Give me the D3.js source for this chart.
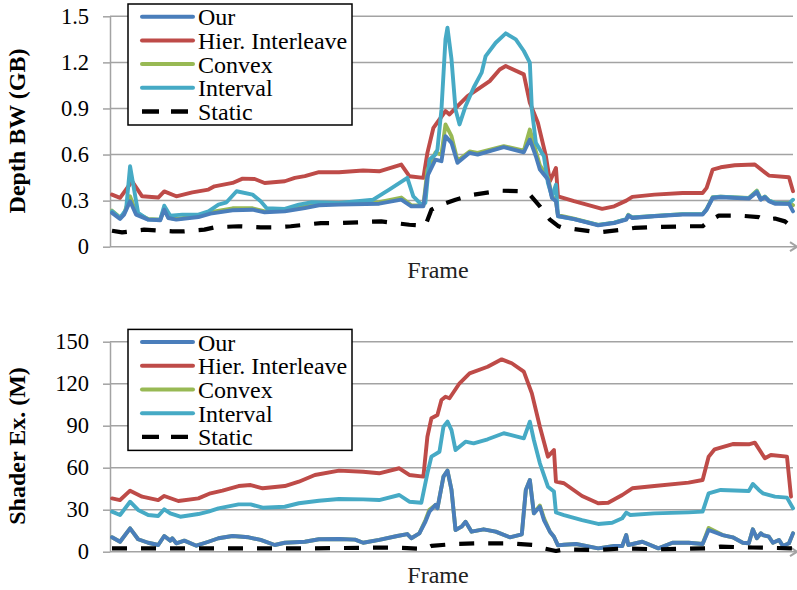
<!DOCTYPE html>
<html><head><meta charset="utf-8">
<script src="https://cdn.jsdelivr.net/npm/d3@7"></script>
<style>body{margin:0;background:#fff} svg{display:block}</style>
</head><body><svg id="c" width="797" height="590"></svg>
<script>
// ---------- data ----------
const seriesNames = ["Our", "Hier. Interleave", "Convex", "Interval", "Static"];
const frameDomain = [0, 340];
const xLabel = "Frame";

const depthTitle = "Depth BW (GB)";
const depthTicks = [0, 0.3, 0.6, 0.9, 1.2, 1.5];
const depthTickLabels = ["0", "0.3", "0.6", "0.9", "1.2", "1.5"];

const shaderTitle = "Shader Ex. (M)";
const shaderTicks = [0, 30, 60, 90, 120, 150];
const shaderTickLabels = ["0", "30", "60", "90", "120", "150"];

// [frame, value]
const depthOur = [[1,0.22],[5,0.18],[7,0.209],[10,0.296],[13,0.209],[19,0.176],[25,0.172],[27,0.241],[29,0.187],[33,0.176],[44,0.193],[50,0.215],[61,0.237],[71,0.241],[77,0.224],[87,0.23],[97,0.252],[104,0.27],[114,0.274],[134,0.28],[145,0.306],[150,0.263],[156,0.263],[158,0.459],[162,0.567],[165,0.557],[167,0.72],[170,0.676],[173,0.546],[179,0.611],[183,0.6],[196,0.648],[206,0.615],[209,0.698],[212,0.589],[214,0.502],[218,0.437],[220,0.317],[222,0.296],[223,0.2],[231,0.18],[243,0.139],[251,0.154],[257,0.176],[258,0.202],[260,0.187],[271,0.198],[285,0.209],[295,0.209],[297,0.241],[300,0.317],[304,0.322],[318,0.313],[322,0.354],[324,0.306],[326,0.322],[328,0.296],[331,0.28],[338,0.28],[340,0.23]];
const depthHier = [[1,0.339],[5,0.318],[11,0.426],[16,0.328],[24,0.32],[27,0.36],[33,0.328],[41,0.354],[49,0.372],[52,0.393],[61,0.415],[66,0.443],[72,0.441],[77,0.415],[87,0.426],[92,0.448],[97,0.459],[104,0.485],[114,0.485],[126,0.496],[134,0.491],[145,0.535],[149,0.459],[156,0.448],[158,0.611],[161,0.774],[164,0.828],[167,0.883],[169,0.861],[173,0.915],[178,0.98],[183,1.024],[189,1.078],[194,1.154],[197,1.176],[206,1.122],[209,0.937],[213,0.807],[217,0.589],[219,0.426],[222,0.513],[223,0.328],[231,0.296],[245,0.246],[251,0.263],[257,0.3],[260,0.324],[271,0.339],[285,0.35],[295,0.35],[297,0.383],[300,0.502],[304,0.517],[311,0.53],[321,0.535],[328,0.463],[338,0.452],[340,0.361]];
const depthConvex = [[1,0.235],[5,0.19],[7,0.215],[10,0.328],[13,0.22],[19,0.18],[25,0.176],[27,0.25],[29,0.19],[33,0.18],[44,0.2],[50,0.225],[61,0.25],[71,0.25],[77,0.23],[87,0.235],[97,0.26],[104,0.28],[114,0.285],[134,0.29],[145,0.32],[150,0.27],[156,0.268],[158,0.5],[162,0.613],[165,0.6],[167,0.796],[170,0.72],[173,0.56],[179,0.62],[183,0.61],[196,0.655],[206,0.625],[209,0.763],[212,0.62],[214,0.53],[218,0.45],[220,0.33],[222,0.3],[223,0.205],[231,0.183],[243,0.142],[251,0.157],[257,0.18],[258,0.208],[260,0.19],[271,0.2],[285,0.212],[295,0.212],[297,0.245],[300,0.322],[304,0.326],[318,0.318],[322,0.365],[324,0.31],[326,0.326],[328,0.3],[331,0.285],[338,0.285],[340,0.27]];
const depthInterval = [[1,0.23],[5,0.187],[8,0.241],[10,0.524],[12,0.372],[14,0.22],[19,0.176],[25,0.176],[27,0.267],[30,0.202],[36,0.209],[44,0.209],[49,0.23],[54,0.274],[58,0.289],[63,0.361],[71,0.339],[75,0.296],[78,0.25],[87,0.246],[94,0.274],[100,0.289],[114,0.285],[131,0.306],[139,0.372],[148,0.448],[151,0.328],[155,0.274],[157,0.285],[159,0.567],[162,0.6],[163,0.633],[165,0.894],[167,1.35],[168,1.426],[170,1.22],[172,0.894],[174,0.796],[177,0.915],[181,1.035],[185,1.133],[187,1.241],[192,1.328],[197,1.389],[202,1.35],[206,1.274],[209,1.198],[210,0.894],[212,0.676],[216,0.589],[218,0.415],[220,0.328],[222,0.404],[223,0.198],[231,0.18],[243,0.142],[251,0.157],[257,0.18],[258,0.205],[260,0.19],[271,0.2],[285,0.212],[295,0.212],[297,0.244],[300,0.32],[304,0.325],[318,0.316],[322,0.36],[324,0.31],[326,0.325],[328,0.3],[331,0.285],[338,0.28],[340,0.306]];
const depthStatic = [[1,0.104],[6,0.093],[17,0.111],[31,0.1],[37,0.1],[47,0.111],[52,0.126],[64,0.133],[75,0.126],[82,0.126],[90,0.133],[97,0.143],[105,0.154],[114,0.154],[135,0.165],[149,0.143],[157,0.137],[160,0.241],[165,0.274],[172,0.306],[181,0.339],[194,0.365],[204,0.361],[209,0.339],[214,0.263],[219,0.176],[223,0.135],[225,0.125],[231,0.115],[243,0.093],[255,0.111],[261,0.122],[271,0.128],[288,0.133],[295,0.133],[298,0.165],[303,0.202],[314,0.202],[323,0.193],[326,0.176],[331,0.183],[336,0.165],[340,0.122]];

const shaderOur = [[1,10.3],[5,7.1],[10,16.7],[14,8.9],[19,6.4],[24,4.8],[27,11.2],[30,7.9],[31,9.6],[33,6],[37,7.9],[43,4.3],[49,7.1],[54,9.6],[61,11.2],[69,10.3],[75,8.4],[82,4.8],[87,6.4],[97,7.1],[104,8.9],[114,9.1],[122,8.6],[126,6.4],[134,8.4],[143,11.2],[148,12.6],[150,9.6],[154,13.1],[157,21.4],[159,28.6],[162,33.4],[163,31],[166,53.6],[168,57.9],[170,44.1],[172,15.5],[175,17.9],[177,21.4],[180,14.3],[186,16],[192,14.3],[199,10.3],[205,12.4],[207,44.1],[209,51.2],[211,27.4],[214,32.1],[216,22.6],[219,14.3],[221,10.7],[223,4.5],[226,5],[232,5.5],[243,2.4],[251,4.1],[255,4.1],[257,11.9],[258,4.8],[265,7.1],[273,2.4],[280,6.4],[288,6.4],[295,5.5],[298,15.5],[305,11.9],[310,10.3],[315,6.4],[318,6],[320,16],[322,9.6],[324,13.1],[325,11.9],[328,10.7],[330,6.4],[333,8.4],[335,4.1],[338,6],[340,13.1]];
const shaderHier = [[1,38.1],[5,36.9],[10,43.6],[16,39.3],[24,36.9],[27,39.8],[34,36.2],[44,38.1],[50,41.7],[56,43.6],[64,46.9],[70,47.6],[76,45.3],[87,46.9],[94,50],[102,54.8],[114,57.9],[126,57.1],[134,56],[144,59.6],[149,54.8],[156,53.6],[158,82.1],[160,95.3],[163,97.6],[165,108.4],[167,110.7],[169,109.6],[174,120.3],[179,127.4],[188,132.1],[195,137.4],[200,134.6],[206,128.6],[210,113.1],[214,89.3],[218,67.9],[221,72.6],[222,50],[226,48.9],[235,39.8],[243,34.6],[248,35],[255,40.5],[260,45.3],[271,46.9],[288,49.3],[295,51.2],[298,67.9],[301,73.1],[310,76.9],[318,76.7],[321,77.9],[326,66.7],[329,69.1],[337,67.9],[339,39.3]];
const shaderConvex = [[1,10.3],[5,7.1],[10,16.7],[14,8.9],[19,6.4],[24,4.8],[27,11.2],[30,7.9],[31,9.6],[33,6],[37,7.9],[43,4.3],[49,7.1],[54,9.6],[61,11.2],[69,10.3],[75,8.4],[82,4.8],[87,6.4],[97,7.1],[104,8.9],[114,9.1],[122,8.6],[126,6.4],[134,8.4],[143,11.2],[148,12.6],[150,9.6],[154,13.1],[157,22.5],[159,30],[162,33.4],[163,31],[166,53.6],[168,57.9],[170,44.1],[172,15.5],[175,17.9],[177,21.4],[180,14.3],[186,16],[192,14.3],[199,10.3],[205,12.4],[207,44.1],[209,51.2],[211,27.4],[214,33],[216,24],[219,14.3],[221,10.7],[223,4.5],[226,5],[232,5.5],[243,2.4],[251,4.1],[255,4.1],[257,11.9],[258,4.8],[265,7.1],[273,2.4],[280,6.4],[288,6.4],[295,5.5],[298,17],[305,11.9],[310,10.3],[315,6.4],[318,6],[320,16],[322,9.6],[324,13.1],[325,11.9],[328,10.7],[330,6.4],[333,8.4],[335,4.1],[338,6],[340,13.1]];
const shaderInterval = [[1,28.6],[5,26.2],[10,35.7],[14,29.8],[19,26.2],[24,25.5],[27,30.3],[30,27.4],[35,25],[44,26.9],[49,28.6],[54,31],[64,33.8],[70,33.8],[76,31.4],[87,32.1],[94,34.6],[104,36.4],[114,37.6],[126,37.4],[134,36.9],[144,40.5],[149,35.7],[155,35],[158,56],[160,67.9],[164,71.4],[166,89.3],[168,92.9],[170,86.9],[172,72.6],[177,78.6],[181,77.4],[188,80.3],[196,84.6],[206,81],[209,92.9],[211,79.8],[214,63.1],[218,46.4],[221,43],[222,28],[226,26.2],[235,22.6],[243,19.8],[250,20.7],[255,23.9],[257,27.9],[259,26.2],[271,27.4],[288,28.1],[295,28.6],[298,41.7],[304,44.1],[318,43.4],[320,48.4],[323,44.1],[325,41.7],[331,39.3],[337,38.6],[340,31]];
const shaderStatic = [[1,2.4],[60,2.4],[100,2.4],[140,3],[157,2],[160,4.1],[171,5.5],[184,6],[199,6],[211,4.8],[216,2.4],[222,0.5],[226,1.7],[243,1.2],[256,2.4],[273,1.7],[297,2.4],[304,3.6],[320,3],[340,2.4]];

// ---------- styles ----------
const colors = {"Our":"#4a7ebb","Hier. Interleave":"#be4b48","Convex":"#98b954","Interval":"#46aac5","Static":"#000000"};
const drawOrder = ["Hier. Interleave","Convex","Interval","Our","Static"];
const serif = "'Liberation Serif','Times New Roman',serif";
const gridColor = "#a3a3a3";

const charts = [
  {title: depthTitle, ticks: depthTicks, labels: depthTickLabels, yRange: [246.7, 16.3], titleY: 131,
   series: {"Our":depthOur,"Hier. Interleave":depthHier,"Convex":depthConvex,"Interval":depthInterval,"Static":depthStatic}},
  {title: shaderTitle, ticks: shaderTicks, labels: shaderTickLabels, yRange: [551.7, 341.7], titleY: 446,
   series: {"Our":shaderOur,"Hier. Interleave":shaderHier,"Convex":shaderConvex,"Interval":shaderInterval,"Static":shaderStatic}}
];

const svg = d3.select("#c");
svg.append("rect").attr("width",797).attr("height",590).attr("fill","#fff");
const x = d3.scaleLinear().domain(frameDomain).range([110, 793]);

charts.forEach(ch => {
  const y = d3.scaleLinear().domain([ch.ticks[0], ch.ticks[ch.ticks.length-1]]).range(ch.yRange);
  const g = svg.append("g");
  // gridlines
  g.selectAll("line.grid").data(ch.ticks.slice(1)).enter().append("line")
    .attr("x1", x.range()[0]).attr("x2", x.range()[1])
    .attr("y1", d => y(d)).attr("y2", d => y(d))
    .attr("stroke", gridColor).attr("stroke-width", 1.5);
  // y axis
  const ax = g.append("g").attr("transform", `translate(${x.range()[0]},0)`)
    .call(d3.axisLeft(y).tickValues(ch.ticks).tickFormat((d,i) => ch.labels[i]).tickSize(7).tickPadding(14).tickSizeOuter(0));
  ax.select(".domain").attr("stroke", gridColor).attr("stroke-width", 1.5);
  ax.selectAll(".tick line").attr("stroke", gridColor).attr("stroke-width", 1.5);
  ax.selectAll(".tick text").attr("font-family", serif).attr("font-size", 22.5).attr("fill", "#000");
  // x axis line with arrow
  const y0 = y(ch.ticks[0]);
  g.append("line").attr("x1", x.range()[0]).attr("x2", x.range()[1] + 3).attr("y1", y0).attr("y2", y0)
    .attr("stroke", gridColor).attr("stroke-width", 1.5);
  const ax1 = x.range()[1] + 4;
  g.append("path").attr("d", `M${ax1-7},${y0-4.5}L${ax1},${y0}L${ax1-7},${y0+4.5}`)
    .attr("fill", "none").attr("stroke", gridColor).attr("stroke-width", 2);
  // series
  const line = d3.line().x(d => x(d[0])).y(d => y(d[1]));
  drawOrder.forEach(name => {
    const p = g.append("path").datum(ch.series[name]).attr("d", line)
      .attr("fill", "none").attr("stroke", colors[name]).attr("stroke-width", 3.9)
      .attr("stroke-linejoin", "round");
    if (name === "Static") p.attr("stroke-dasharray", "15,14").attr("stroke-width", 4.2);
    else p.attr("stroke-linecap", "round");
  });
  // axis titles
  g.append("text").attr("transform", `translate(25,${ch.titleY}) rotate(-90)`)
    .attr("text-anchor", "middle").attr("font-family", serif).attr("font-weight", "bold")
    .attr("font-size", 24).text(ch.title);
  g.append("text").attr("x", 438).attr("y", y0 + 31).attr("text-anchor", "middle")
    .attr("font-family", serif).attr("font-size", 24).attr("fill", "#222").text(xLabel);
  // legend
  const top = ch.yRange[1];
  const lg = g.append("g");
  lg.append("rect").attr("x", 128).attr("y", top - 12.3).attr("width", 224).attr("height", 121)
    .attr("fill", "#fff").attr("stroke", "#000").attr("stroke-width", 1.5);
  seriesNames.forEach((name, i) => {
    const ly = top + 0.4 + i * 23.7;
    const l = lg.append("line").attr("x1", 142).attr("x2", 193).attr("y1", ly).attr("y2", ly)
      .attr("stroke", colors[name]).attr("stroke-width", 4);
    if (name === "Static") l.attr("stroke-dasharray", "17,12").attr("stroke-width", 4.4);
    else l.attr("stroke-linecap", "round");
    lg.append("text").attr("x", 198).attr("y", ly).attr("dy", "0.35em")
      .attr("font-family", serif).attr("font-size", 24).attr("fill", "#000").text(name);
  });
});
</script></body></html>
